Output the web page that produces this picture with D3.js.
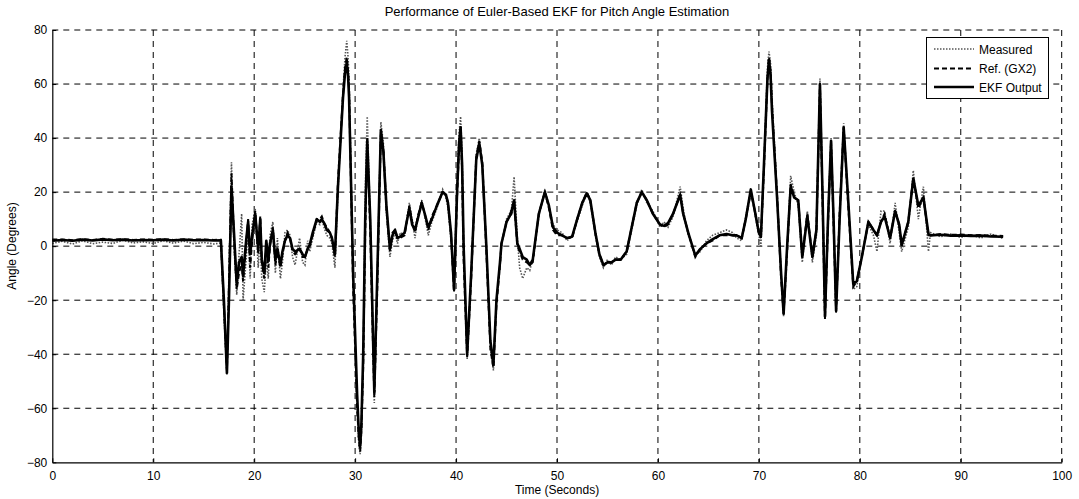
<!DOCTYPE html>
<html><head><meta charset="utf-8">
<script src="https://cdn.jsdelivr.net/npm/d3@7"></script>
<style>body{margin:0;background:#fff}svg{display:block}text{font-family:"Liberation Sans",Arial,sans-serif;fill:#000}</style>
</head><body><svg id="c" width="1079" height="499"></svg>
<script>
const title = "Performance of Euler-Based EKF for Pitch Angle Estimation";
const xLabel = "Time (Seconds)";
const yLabel = "Angle (Degrees)";
const xTicks = [0,10,20,30,40,50,60,70,80,90,100];
const yTicks = [-80,-60,-40,-20,0,20,40,60,80];
const seriesNames = ["Measured","Ref. (GX2)","EKF Output"];

const time = [0,1,2,3,4,5,6,7,8,9,10,11,12,13,14,15,16,16.7,17.0,17.3,17.5,17.75,18.0,18.27,18.5,18.76,18.9,19.2,19.4,19.6,19.8,20.1,20.4,20.6,20.75,21.0,21.2,21.4,21.57,21.85,22.1,22.3,22.6,22.8,23.05,23.3,23.55,23.8,24.05,24.5,24.8,25.03,25.3,25.5,25.8,26.2,26.5,26.7,27.0,27.2,27.5,27.7,28.0,28.3,28.8,29.0,29.17,29.3,29.4,29.8,30.2,30.38,30.5,30.62,30.8,31.0,31.2,31.5,31.9,32.2,32.55,32.8,33.1,33.45,33.7,33.95,34.2,34.45,34.9,35.37,35.65,35.93,36.2,36.6,36.9,37.25,37.6,38.1,38.67,39.0,39.2,39.5,39.8,40.1,40.3,40.45,40.6,40.75,41.1,41.5,42.0,42.3,42.6,43.0,43.4,43.7,44.0,44.35,44.5,45.0,45.3,45.5,45.75,46.07,46.3,46.6,47.0,47.3,47.6,48.2,48.8,49.2,49.6,50.0,50.5,51.0,51.5,52.0,52.5,52.95,53.3,53.8,54.2,54.6,55.0,55.4,55.8,56.3,56.9,57.4,57.9,58.4,58.9,59.5,60.2,60.6,61.0,61.5,62.2,62.5,63.0,63.7,64.2,64.8,65.4,66.1,66.8,67.4,67.8,68.3,68.7,69.2,69.6,70.0,70.2,70.5,70.85,71.0,71.15,71.3,71.8,72.2,72.45,72.8,73.15,73.5,73.9,74.3,74.8,75.3,75.7,76.05,76.3,76.55,76.85,77.15,77.4,77.65,78.0,78.4,78.8,79.35,79.7,80.2,80.85,81.35,81.7,82.1,82.45,83.0,83.5,83.9,84.15,84.8,85.3,85.8,86.3,86.8,87.0,88,89,90,91,92,93,94.2];

const ekf = [2.0,2.3,2.0,2.4,2.1,2.5,2.2,2.4,2.1,2.3,2.2,2.4,2.1,2.4,2.2,2.3,2.1,2.2,-20,-47,-20,22,5,-14,-6,-4,-11,2,9,-3,4,12,-1,10,-5,-10,2,-5,1,6,-5,-1,-7,-2,2,4,3,-1,-2,-1,-3,-4,-1,0.5,5,10,9,10,8,6,5,3,-3,22,55,64,68,63,55,-10,-55,-70,-74,-66,-40,10,39,10,-54,-10,43,35,15,-1,4,6,3,3.5,5,14,8,6,10,16,12,7,10,15,20,19,16,5,-16,20,38,44,30,0,-40,-10,32,38,30,0,-35,-44,-20,-6,1,9,11,13,17,1,-1,-4,-5,-7,-5,12,20,15,7,5,4,3,3.5,10,16,19.5,17,5,-3,-7,-6,-6,-5,-5,-2,7,16,20,17,12,8,7.5,8.5,12,19,12,5,-3.5,-1,1,2.5,4,4.5,4,4,3,10,21,13,5,3.5,30,62,69,64,50,18,-10,-25,0,22,18,17,-4,11,-4,6,60,20,-26,10,39,10,-24,10,44,20,-14,-13,-4,9,6,4,9,11,3,13,8,0.5,9,25,15,18,4.5,4,4.2,3.9,4.0,3.8,3.9,3.6,3.5];

const ref = [2.5,2.5,2.2,2.6,2.3,2.7,2.4,2.6,2.3,2.5,2.4,2.6,2.3,2.5,2.4,2.5,2.3,2.4,-22,-46,-15,27,3,-16,-10,-6,-13,0,10,-8,2,13,-3,11,-6,-12,0,-8,0,7,-7,-2,-8,-3,2,5,3,-2,-3,-1,-4,-4,-1,0,4,10,10,11,8,7,5,3,-4,24,56,66,70,65,58,-15,-60,-72,-76,-68,-45,5,40,5,-56,-15,42,36,14,-2,5,6,3,3,4,15,9,5,11,16,12,6,11,15,20,19,16,4,-17,18,37,44,28,-5,-41,-12,33,39,31,-2,-38,-45,-22,-7,1,9,11,12,17,0,-2,-5,-6,-7,-6,12,20,14,6,4,4,3,3,10,16,20,17,5,-3,-7,-6,-6,-5,-5,-2,7,16,20,17,12,8,7,8,12,19,12,5,-4,-1,1,2,4,4,4,4,3,10,20,13,5,3,28,62,70,65,52,19,-12,-25,-2,23,18,17,-4,12,-4,6,60,18,-27,8,39,8,-24,12,44,18,-15,-13,-4,9,6,4,9,12,3,13,8,0,9,25,14,18,4,4,4.5,4.2,4.3,4.0,4.1,3.9,3.8];

const measured = [1.0,1.8,0.8,2.0,0.9,1.5,1.0,2.2,1.2,1.6,1.0,2.0,1.1,1.9,0.9,1.4,0.8,1.2,-25,-47,-10,31,0,-18,-3,12,-20,-5,6,-12,8,14,-8,4,-12,-17,-5,-12,4,9,-10,3,-12,-6,5,6,4,-4,-7,3,-6,-7,2,-2,3,9,8,10,6,4,3,1,-8,20,58,70,76,70,62,-10,-60,-74,-77,-70,-45,20,48,10,-58,-10,46,38,12,-4,2,5,1,5,4,16,10,3,10,17,11,4,9,14,21,18,14,2,-15,25,42,48,34,0,-42,-10,34,40,30,0,-38,-46,-20,-8,0,10,12,14,25.7,3,-8,-12,-8,-9,-5,11,21,15,8,6,5,2,4,9,15,20,16,4,-4,-8,-5,-7,-4,-5,-3,6,15,21,16,13,7,9,7,11,22,14,4,-3,-2,2,4,5,6,5,3,2,11,21,12,4,0,30,66,72,68,55,20,-10,-26,0,26,20,15,-6,13,-6,4,62,20,-26,12,40,8,-25,12,45.5,20,-16,-15,-3,8,4,-2,13,13,1,16,5,-2,7,28,10,22,-2,5,3.5,4.5,3.2,4.2,3.0,4.5,2.8];

const svg = d3.select("#c");
const m = {l:52.3, r:1061.7, t:30, b:462.3};
const x = d3.scaleLinear().domain([0,100]).range([m.l, m.r]);
const y = d3.scaleLinear().domain([-80,80]).range([m.b, m.t]);

// grid
const g = svg.append("g");
g.selectAll("line.vg").data(xTicks.filter(d=>d>0)).join("line")
  .attr("x1",d=>x(d)).attr("x2",d=>x(d)).attr("y1",m.t).attr("y2",m.b)
  .attr("stroke","#000").attr("stroke-width",1).attr("stroke-dasharray","6,5");
g.selectAll("line.hg").data(yTicks.filter(d=>d>-80)).join("line")
  .attr("x1",m.l).attr("x2",m.r).attr("y1",d=>y(d)).attr("y2",d=>y(d))
  .attr("stroke","#000").attr("stroke-width",1).attr("stroke-dasharray","6,5");

// series
const mk = vals => d3.line().x((d,i)=>x(time[i])).y(d=>y(d))(vals);
svg.append("path").attr("d",mk(measured)).attr("fill","none")
  .attr("stroke","#555").attr("stroke-width",1.6).attr("stroke-dasharray","1.5,1.5");
svg.append("path").attr("d",mk(ref)).attr("fill","none")
  .attr("stroke","#000").attr("stroke-width",2).attr("stroke-dasharray","5,3");
svg.append("path").attr("d",mk(ekf)).attr("fill","none")
  .attr("stroke","#000").attr("stroke-width",2.6).attr("stroke-linejoin","round");

// axes
const xa = svg.append("g").attr("transform",`translate(0,${m.b})`)
  .call(d3.axisBottom(x).tickValues(xTicks).tickSizeInner(-4).tickSizeOuter(0).tickPadding(9));
const ya = svg.append("g").attr("transform",`translate(${m.l},0)`)
  .call(d3.axisLeft(y).tickValues(yTicks).tickSizeInner(-4).tickSizeOuter(0).tickPadding(5));
[xa,ya].forEach(a=>{
  a.selectAll("text").style("font-size","12px").style("font-family","Liberation Sans, Arial, sans-serif");
  a.select(".domain").attr("stroke","#000").attr("stroke-width",1.2);
});

// labels
svg.append("text").attr("x",557).attr("y",16).attr("text-anchor","middle").style("font-size","13px").text(title);
svg.append("text").attr("x",557).attr("y",494).attr("text-anchor","middle").style("font-size","12px").text(xLabel);
svg.append("text").attr("transform","translate(16,246) rotate(-90)").attr("text-anchor","middle").style("font-size","12px").text(yLabel);

// legend
const lg = svg.append("g");
lg.append("rect").attr("x",926.5).attr("y",37.5).attr("width",122).attr("height",61)
  .attr("fill","#fff").attr("stroke","#000").attr("stroke-width",1);
const styles = [
  {s:"#555",w:1.6,d:"1.5,1.5"},
  {s:"#000",w:2,d:"5,3"},
  {s:"#000",w:2.4,d:null}
];
const ly = [49,68.5,87];
seriesNames.forEach((n,i)=>{
  lg.append("line").attr("x1",934).attr("x2",974).attr("y1",ly[i]).attr("y2",ly[i])
    .attr("stroke",styles[i].s).attr("stroke-width",styles[i].w).attr("stroke-dasharray",styles[i].d);
  lg.append("text").attr("x",979).attr("y",ly[i]+4.5).style("font-size","12px").text(n);
});
</script></body></html>
